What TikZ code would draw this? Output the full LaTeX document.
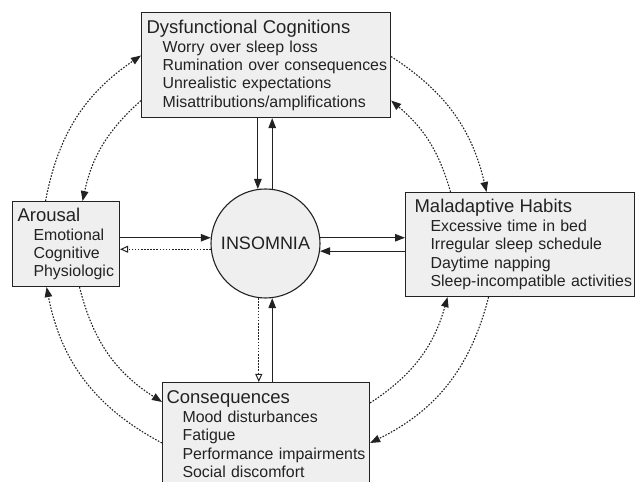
\documentclass[tikz,border=0pt]{standalone}
\usepackage{fontspec}
\setmainfont{Liberation Sans}
\usetikzlibrary{arrows.meta}

\definecolor{boxgray}{HTML}{EFEFEF}
\definecolor{inkgray}{HTML}{222222}

% Box texts
\newcommand{\boxhead}[1]{{\fontsize{18.5}{19}\selectfont #1}}
\newcommand{\boxitem}[1]{\mbox{\hspace{16pt}#1}}

\begin{document}
\begin{tikzpicture}[x=1pt, y=1pt,
  box/.style={draw=inkgray, fill=boxgray, line width=1.1pt, anchor=north west,
    align=left, inner xsep=5pt, inner ysep=0pt, text=inkgray,
    font=\fontsize{15.9}{18.3}\selectfont},
  flow/.style={draw=inkgray, line width=1.2pt, -{Triangle[length=10pt,width=7.5pt]}},
  back/.style={draw=inkgray, line width=1pt, dash pattern=on 1.6pt off 1.5pt,
    -{Triangle[open,length=8pt,width=7pt]}},
  loop/.style={draw=inkgray, line width=1.1pt, dash pattern=on 1.6pt off 1.5pt,
    -{Triangle[length=10pt,width=7.5pt]}}]

% Fix the page size
\useasboundingbox (0,0) rectangle (635,482);

% Centre node
\node[circle, draw=inkgray, fill=boxgray, line width=1.1pt, minimum size=109pt,
  inner sep=0pt, text=inkgray, font=\fontsize{18}{18}\selectfont] (ins) at (265.5,238.5) {INSOMNIA};

% Top box
\node[box, text width=239pt, minimum height=105pt] (cog) at (141,470)
  {\boxhead{Dysfunctional Cognitions}\\[0.7pt]
   \boxitem{Worry over sleep loss}\\
   \boxitem{Rumination over consequences}\\
   \boxitem{Unrealistic expectations}\\
   \boxitem{Misattributions/amplifications}};

% Left box
\node[box, text width=97pt, minimum height=85pt] (aro) at (12,281)
  {\boxhead{Arousal}\\[0.7pt]
   \boxitem{Emotional}\\
   \boxitem{Cognitive}\\
   \boxitem{Physiologic}};

% Right box
\node[box, inner xsep=9pt, text width=211pt, minimum height=104pt] (mal) at (405,290)
  {\boxhead{Maladaptive Habits}\\[0.7pt]
   \boxitem{Excessive time in bed}\\
   \boxitem{Irregular sleep schedule}\\
   \boxitem{Daytime napping}\\
   \boxitem{Sleep-incompatible activities}};

% Bottom box
\node[box, inner xsep=4pt, text width=199pt, minimum height=103pt] (con) at (162,100)
  {\boxhead{Consequences}\\[0.7pt]
   \boxitem{Mood disturbances}\\
   \boxitem{Fatigue}\\
   \boxitem{Performance impairments}\\
   \boxitem{Social discomfort}};

% Links to and from INSOMNIA
\draw[flow] (ins.98 |- cog.south) -- (ins.98);
\draw[flow] (ins.83) -- (ins.83 |- cog.south);
\draw[flow] (aro.east |- ins.174) -- (ins.174);
\draw[back] (ins.186) -- (ins.186 -| aro.east);
\draw[flow] (ins.6) -- (ins.6 -| mal.west);
\draw[flow] (mal.west |- ins.352) -- (ins.352);
\draw[flow] (ins.277 |- con.north) -- (ins.277);
\draw[back] (ins.263) -- (ins.263 |- con.north);

% Outer ring of links
\draw[loop] ([xshift=-20.5pt]aro.north) to[bend left=22.5] ([yshift=9.5pt]cog.west);
\draw[loop] ([yshift=8.5pt]cog.east) to[bend left=22] ([xshift=-33.5pt]mal.north);
\draw[loop] ([xshift=-31.5pt]mal.south) to[bend left=24.7] ([yshift=-61pt]con.north east);
\draw[loop] ([yshift=-61pt]con.north west) to[bend left=25.5] ([xshift=-19.5pt]aro.south);

% Inner ring of links
\draw[loop] ([yshift=-35.5pt]cog.west) to[bend right=18] ([xshift=16.5pt]aro.north);
\draw[loop] ([xshift=13.5pt]aro.south) to[bend right=21.7] ([yshift=-20pt]con.north west);
\draw[loop] ([yshift=-21pt]con.north east) to[bend right=20.5] ([xshift=-72.5pt]mal.south);
\draw[loop] ([xshift=-69.5pt]mal.north) to[bend right=17] ([yshift=-35.5pt]cog.east);

\end{tikzpicture}
\end{document}
